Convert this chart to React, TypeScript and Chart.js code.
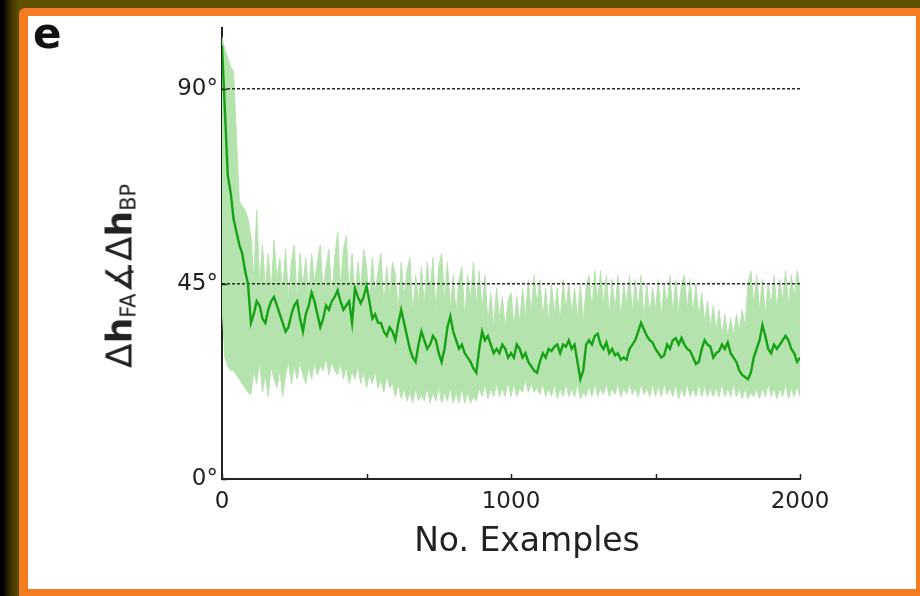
import React, { useEffect, useRef } from 'react';
import { Chart, registerables } from 'chart.js';

Chart.register(...registerables);

// sampling interval of the traces (No. Examples)
const sampleStep = 10;

// smoothed (mean) angle, degrees, x = 0..2000 step 10
const meanAngle = [
  100, 85, 70, 66, 60, 57, 54, 52, 48, 45,
  36, 38, 41, 40, 37, 36, 39, 41, 42, 40,
  38, 36, 34, 35, 38, 40, 41, 37, 34, 38,
  40, 43, 41, 38, 35, 37, 40, 39, 41, 42,
  43.5, 41, 39, 40, 41, 36, 44, 42, 40.5, 42,
  44.5, 41, 37, 38, 36, 36, 34, 33, 35, 34,
  32, 36, 39, 36, 33, 30, 28, 27, 31, 34,
  32, 30, 31, 33, 32, 29, 27, 30, 35, 37.5,
  34, 32, 30, 31, 29, 28, 27, 25.5, 24.5, 30,
  34, 32, 33, 31, 29, 30, 29, 31, 30, 28,
  29, 28, 31, 30, 28, 29, 27, 26, 25, 24.5,
  27, 29, 28, 30, 29.5, 30.5, 31, 29, 31, 30.5,
  32, 30, 31, 27, 23, 25, 31, 32, 31, 33,
  33.5, 31, 30, 31.5, 29, 30, 28.5, 29, 27.5, 28,
  27.5, 30, 31, 32, 34, 36, 34.5, 33, 32, 31.5,
  30, 29, 28, 28.5, 31, 30, 32, 32.5, 31, 32.5,
  31, 30, 29.5, 28, 26.5, 27, 30, 32, 31, 30.5,
  28, 29, 29.5, 31, 30, 31.5, 29, 28, 27, 25,
  24, 23.5, 23, 24.5, 28, 30, 32, 35.5, 33, 30,
  29, 31, 30, 31, 32, 33, 32, 30, 29, 27,
  28,
];

// upper envelope of the raw (single-example) angle, degrees
const upperAngle = [
  102, 99, 97, 95, 94, 79, 64, 63, 62, 60,
  56, 46, 62, 45, 54, 44, 52, 43, 55, 46,
  51, 43, 53, 42, 50, 54, 41, 52, 44, 51,
  42, 52, 45, 50, 54, 43, 49, 53, 42, 51,
  57, 44, 53, 56, 43, 52, 41, 50, 44, 53,
  49, 41, 51, 43, 48, 52, 40, 49, 42, 50,
  47, 39, 50, 42, 48, 51, 38, 47, 41, 49,
  40, 50, 43, 51, 39, 49, 52, 41, 50, 39,
  47, 38, 46, 49, 37, 47, 41, 50, 40, 48,
  39, 47, 36, 43, 35, 44, 37, 42, 35, 41,
  43, 35, 42, 36, 44, 37, 46, 38, 47, 40,
  46, 37, 44, 36, 45, 38, 44, 36, 46, 39,
  45, 38, 44, 37, 45, 36, 44, 47, 39, 48,
  41, 48, 40, 47, 38, 46, 39, 47, 37, 45,
  40, 47, 38, 46, 39, 47, 37, 45, 38, 44,
  39, 46, 37, 45, 40, 47, 38, 46, 38, 45,
  47, 39, 46, 38, 45, 37, 43, 36, 41, 35,
  40, 34, 39, 33, 38, 33, 37, 33, 38, 34,
  39, 35, 45, 48, 40, 47, 39, 46, 38, 45,
  40, 47, 39, 46, 41, 48, 40, 47, 42, 48,
  44,
];

// lower envelope of the raw angle, degrees
const lowerAngle = [
  40, 28, 26, 25, 25, 24, 23, 22, 21, 20,
  19.5, 25, 22, 27, 20, 24, 19, 26, 23, 21,
  25, 19, 24, 27, 22, 26, 23, 27, 24, 22,
  26, 23, 27, 24, 26, 25, 28, 24, 27, 25,
  24, 27, 23, 26, 22, 25, 23, 26, 22, 25,
  21, 24, 22, 25, 21, 23, 20, 24, 21, 22,
  19, 22, 18.5, 21, 18, 20, 17.5, 21, 18, 19.5,
  18, 21, 17.5, 20, 18, 21.5, 17.5, 20, 18, 21,
  17.5, 20, 17.5, 21, 17.5, 20, 17.5, 19, 18, 21,
  19, 22, 18.5, 21, 19, 22, 19, 21, 19, 22.5,
  19, 22, 19, 21, 20, 23, 20, 22, 20, 21,
  19.5, 22, 19, 21, 19, 22, 18.5, 21, 19, 22,
  19, 21, 19, 22, 18.5, 20, 19, 21.5, 19, 22,
  19, 21, 19.5, 22, 19, 21, 19.5, 22, 19, 21,
  19.5, 22, 19.5, 21, 19, 22, 19.5, 21, 19, 22,
  19, 21.5, 19, 22, 19.5, 21, 19, 22, 18.5, 21,
  19, 22, 19, 21, 19, 22, 19, 21.5, 19, 21,
  19, 21, 19, 22, 19, 21, 19, 22, 19, 21,
  18.5, 21, 18.5, 20, 19, 21, 18.5, 21, 19, 22,
  19, 21, 18.5, 21, 19, 22, 18.5, 21, 19, 21.5,
  19,
];

const refAngles = [90, 45];
const xMin = 0;
const xMax = 2000;
const yMin = 0;
const yMax = 104;
const xTicks = [0, 500, 1000, 1500, 2000];
const xTickLabels = ['0', '', '1000', '', '2000'];
const yTicks = [0, 45, 90];
const yTickLabels = ['0°', '45°', '90°'];

const toPoints = (arr: number[]) => arr.map((v, i) => ({ x: i * sampleStep, y: v }));

const inwardTicks = {
  id: 'inwardTicks',
  afterDraw(chart: any) {
    const { ctx, chartArea, scales } = chart;
    ctx.save();
    ctx.strokeStyle = '#222';
    ctx.lineWidth = 1.5;
    ctx.beginPath();
    xTicks.forEach((v) => {
      const px = Math.round(scales.x.getPixelForValue(v)) + 0.5;
      ctx.moveTo(px, chartArea.bottom);
      ctx.lineTo(px, chartArea.bottom - 5);
    });
    yTicks.forEach((v) => {
      const py = Math.round(scales.y.getPixelForValue(v)) + 0.5;
      ctx.moveTo(chartArea.left, py);
      ctx.lineTo(chartArea.left + 5, py);
    });
    ctx.stroke();
    ctx.restore();
  },
};

export default function App() {
  const canvasRef = useRef<HTMLCanvasElement | null>(null);

  useEffect(() => {
    if (!canvasRef.current) return;
    const bandColor = '#b5e3ad';
    const chart = new Chart(canvasRef.current, {
      type: 'line',
      data: {
        datasets: [
          {
            label: 'upper',
            data: toPoints(upperAngle),
            borderColor: bandColor,
            borderWidth: 1,
            backgroundColor: bandColor,
            fill: '+1',
            pointRadius: 0,
            order: 4,
          },
          {
            label: 'lower',
            data: toPoints(lowerAngle),
            borderColor: bandColor,
            borderWidth: 1,
            fill: false,
            pointRadius: 0,
            order: 3,
          },
          ...refAngles.map((a) => ({
            label: 'ref' + a,
            data: [
              { x: xMin, y: a },
              { x: xMax, y: a },
            ],
            borderColor: '#2a2a2a',
            borderWidth: 1.5,
            borderDash: [3, 2],
            fill: false,
            pointRadius: 0,
            order: 2,
          })),
          {
            label: 'mean',
            data: toPoints(meanAngle),
            borderColor: '#15a215',
            borderWidth: 2.4,
            fill: false,
            pointRadius: 0,
            order: 0,
          },
        ],
      },
      options: {
        animation: false,
        responsive: false,
        maintainAspectRatio: false,
        devicePixelRatio: 1,
        layout: { padding: { left: 162, right: 120, top: 28, bottom: 77 } },
        plugins: { legend: { display: false }, tooltip: { enabled: false } },
        elements: { line: { tension: 0 } },
        scales: {
          x: {
            type: 'linear',
            min: xMin,
            max: xMax,
            afterFit: (s: any) => {
              s.height = 40;
            },
            afterBuildTicks: (s: any) => {
              s.ticks = xTicks.map((v) => ({ value: v }));
            },
            ticks: {
              autoSkip: false,
              maxRotation: 0,
              padding: 9,
              color: '#222',
              font: { family: '"DejaVu Sans"', size: 23 },
              callback: (v: any) => {
                const i = xTicks.indexOf(Number(v));
                return i >= 0 ? xTickLabels[i] : '';
              },
            },
            grid: { display: false, drawTicks: false },
            border: { display: true, color: '#222', width: 2 },
          },
          y: {
            type: 'linear',
            min: yMin,
            max: yMax,
            afterFit: (s: any) => {
              s.width = 60;
            },
            afterBuildTicks: (s: any) => {
              s.ticks = yTicks.map((v) => ({ value: v }));
            },
            ticks: {
              autoSkip: false,
              padding: 4,
              color: '#222',
              font: { family: '"DejaVu Sans"', size: 23 },
              callback: (v: any) => {
                const i = yTicks.indexOf(Number(v));
                return i >= 0 ? yTickLabels[i] : '';
              },
            },
            grid: { display: false, drawTicks: false },
            border: { display: true, color: '#222', width: 2 },
          },
        },
      },
      plugins: [inwardTicks],
    } as any);
    return () => chart.destroy();
  }, []);

  return (
    <div
      style={{
        position: 'fixed',
        left: 0,
        top: 0,
        width: 920,
        height: 596,
        overflow: 'hidden',
        background: 'linear-gradient(to right, #000 0px, #000 3px, #3e3200 11px, #5f5000 19px)',
      }}
    >
      <div
        style={{
          position: 'absolute',
          left: 19,
          top: 8,
          width: 901,
          height: 588,
          background: '#f47b20',
          borderTopLeftRadius: 6,
        }}
      />
      <div
        style={{
          position: 'absolute',
          left: 28,
          top: 16,
          width: 888,
          height: 573,
          background: '#ffffff',
        }}
      />
      <canvas
        ref={canvasRef}
        width={920}
        height={596}
        style={{ position: 'absolute', left: 0, top: 0, width: 920, height: 596 }}
      />
      <div
        style={{
          position: 'absolute',
          left: 33,
          top: 13,
          fontFamily: '"DejaVu Sans"',
          fontWeight: 'bold',
          fontSize: 42,
          lineHeight: '42px',
          color: '#111',
        }}
      >
        e
      </div>
      <div
        style={{
          position: 'absolute',
          left: 0,
          top: 523,
          width: 1054,
          textAlign: 'center',
          fontFamily: '"DejaVu Sans"',
          fontSize: 33,
          lineHeight: '33px',
          color: '#222',
          whiteSpace: 'nowrap',
        }}
      >
        No. Examples
      </div>
      <div style={{ position: 'absolute', left: 121.5, top: 276, width: 0, height: 0 }}>
        <div
          style={{
            position: 'absolute',
            left: 0,
            top: 0,
            transform: 'translate(-50%, -50%) rotate(-90deg)',
            fontFamily: '"DejaVu Sans"',
            fontSize: 36,
            lineHeight: '36px',
            color: '#222',
            whiteSpace: 'nowrap',
          }}
        >
          Δ<span style={{ fontWeight: 'bold' }}>h</span>
          <span style={{ fontSize: '0.58em', position: 'relative', top: '0.18em' }}>FA</span>
          ∡Δ<span style={{ fontWeight: 'bold' }}>h</span>
          <span style={{ fontSize: '0.58em', position: 'relative', top: '0.18em' }}>BP</span>
        </div>
      </div>
    </div>
  );
}
